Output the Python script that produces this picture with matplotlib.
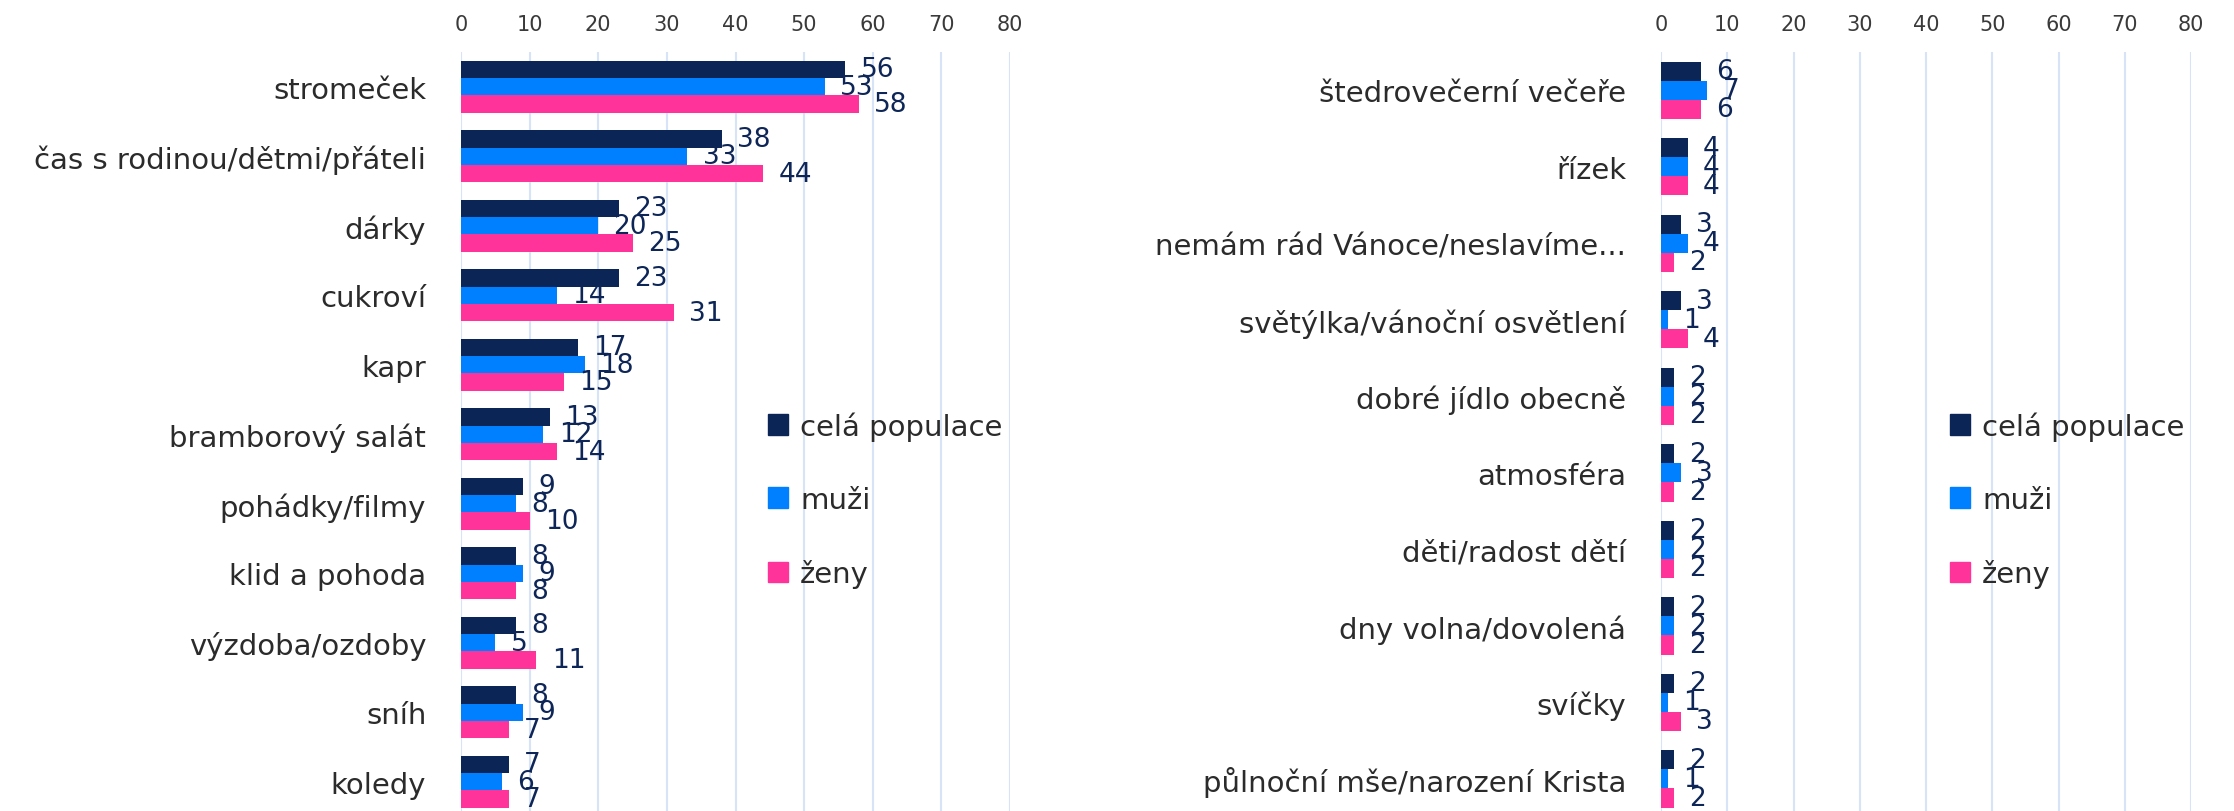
import matplotlib
matplotlib.use('Agg')
import matplotlib.pyplot as plt
import matplotlib.patches as mpatches
import numpy as np

# ─── Data ────────────────────────────────────────────────────────────────────

SERIES = ['celá populace', 'muži', 'ženy']
COLORS = ['#0c2557', '#0080ff', '#ff3399']

left_cats = ['stromeček', 'čas s rodinou/dětmi/přáteli', 'dárky', 'cukroví',
             'kapr', 'bramborový salát', 'pohádky/filmy', 'klid a pohoda',
             'výzdoba/ozdoby', 'sníh', 'koledy']
left_all = [56, 38, 23, 23, 17, 13, 9, 8, 8, 8, 7]
left_men = [53, 33, 20, 14, 18, 12, 8, 9, 5, 9, 6]
left_women = [58, 44, 25, 31, 15, 14, 10, 8, 11, 7, 7]

right_cats = ['štedrovečerní večeře', 'řízek', 'nemám rád Vánoce/neslavíme...',
              'světýlka/vánoční osvětlení', 'dobré jídlo obecně', 'atmosféra',
              'děti/radost dětí', 'dny volna/dovolená', 'svíčky',
              'půlnoční mše/narození Krista']
right_all = [6, 4, 3, 3, 2, 2, 2, 2, 2, 2]
right_men = [7, 4, 4, 1, 2, 3, 2, 2, 1, 1]
right_women = [6, 4, 2, 4, 2, 2, 2, 2, 3, 2]

x_ticks = [0, 10, 20, 30, 40, 50, 60, 70, 80]

# ─── Layout (pixels of the 2234x812 canvas) ─────────────────────────────────

W, H = 2234, 812
plt.rcParams['font.family'] = ['DejaVu Sans']

fig = plt.figure(figsize=(W / 100, H / 100), dpi=100)
fig.patch.set_facecolor('white')

LABEL_COL = '#2b2b2b'
VALUE_COL = '#0d2657'
GRID_COL = '#d7e3f7'


def draw_panel(ax, cats, series, legend_xy):
    n = len(cats)
    y = np.arange(n)
    h = 0.25
    for i, (vals, col) in enumerate(zip(series, COLORS)):
        yy = y + (i - 1) * h
        ax.barh(yy, vals, height=h, color=col, zorder=3, label=SERIES[i])
        for yv, v in zip(yy, vals):
            ax.annotate(f"{v}", (v, yv), xytext=(11, 0), textcoords='offset points',
                        ha='left', va='center', fontsize=19, color=VALUE_COL,
                        annotation_clip=False, zorder=4)

    ax.set_xlim(0, 80)
    ax.set_ylim(n - 1 + 0.42, -0.5)
    ax.set_xticks(x_ticks)
    ax.xaxis.tick_top()
    ax.tick_params(axis='x', length=0, pad=13, labelsize=15, labelcolor='#3a3a3a')
    ax.set_yticks(y)
    ax.set_yticklabels(cats)
    ax.tick_params(axis='y', length=0, pad=25, labelsize=21, labelcolor=LABEL_COL)
    ax.grid(axis='x', color=GRID_COL, linewidth=1.5, zorder=0)
    ax.set_axisbelow(True)
    for s in ax.spines.values():
        s.set_visible(False)

    handles = [mpatches.Patch(color=c, label=s) for c, s in zip(COLORS, SERIES)]
    ax.legend(handles=handles, loc='upper left',
              bbox_to_anchor=(legend_xy[0] / W, 1 - legend_xy[1] / H),
              bbox_transform=fig.transFigure, frameon=False,
              fontsize=21, handlelength=0.7, handleheight=0.7,
              handletextpad=0.4, labelspacing=1.55, borderpad=0,
              borderaxespad=0, labelcolor=LABEL_COL)


top = 53
ax1 = fig.add_axes([461 / W, 0, (1010 - 461) / W, (H - top) / H])
draw_panel(ax1, left_cats, [left_all, left_men, left_women], (768, 412))

ax2 = fig.add_axes([1661 / W, 0, (2191 - 1661) / W, (H - top) / H])
draw_panel(ax2, right_cats, [right_all, right_men, right_women], (1950, 412))

fig.savefig('out.png', dpi=100)
